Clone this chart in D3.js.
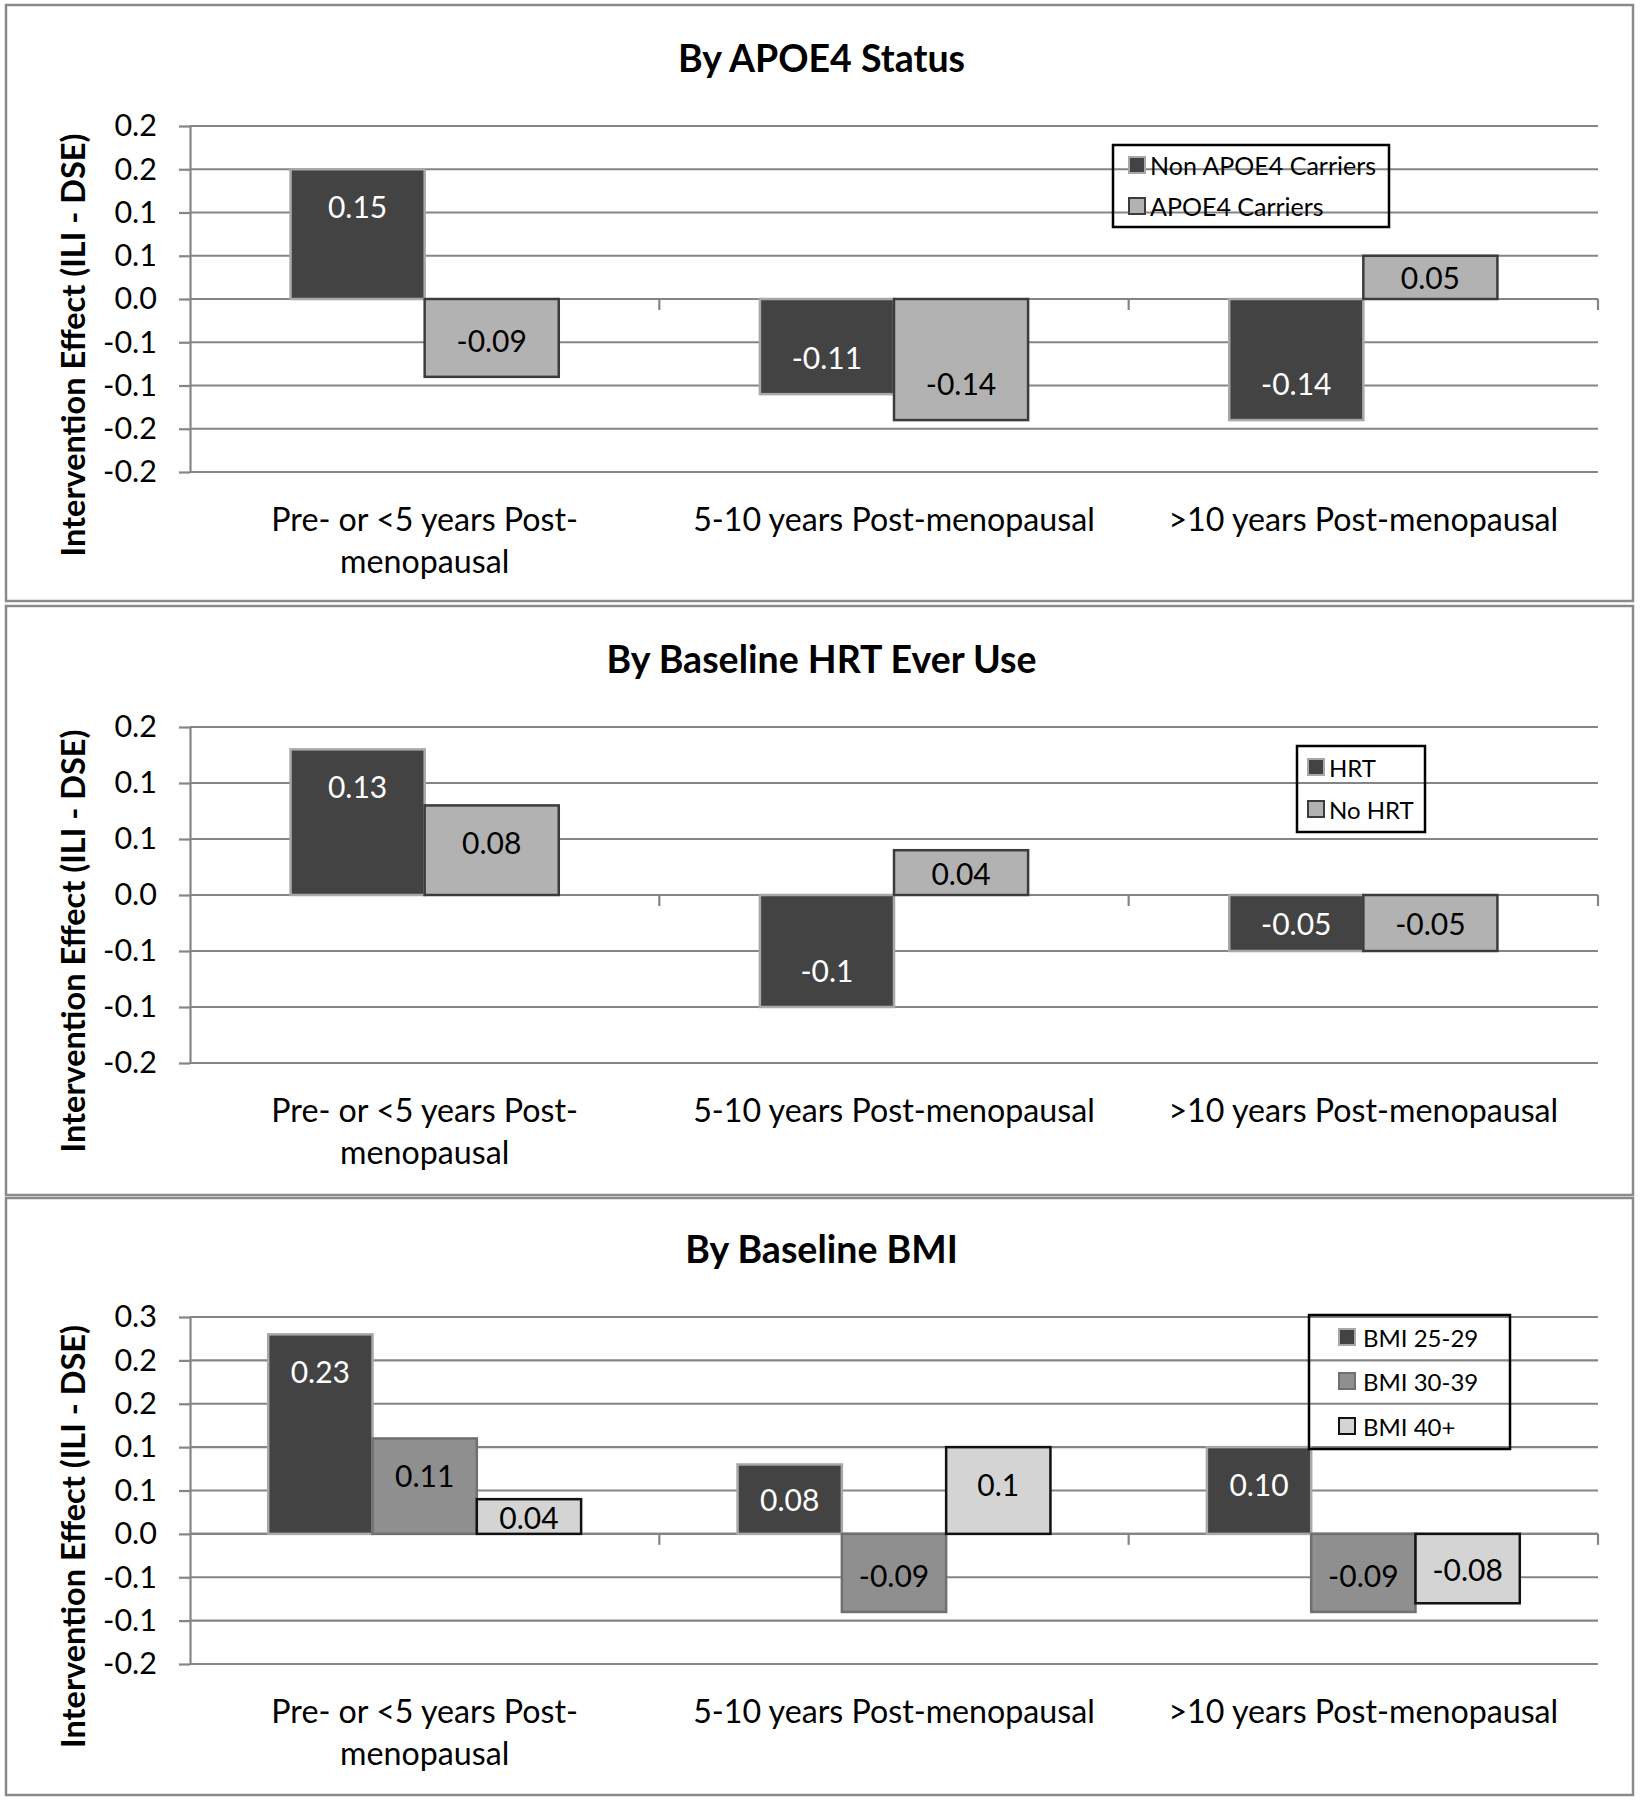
<!DOCTYPE html>
<html><head><meta charset="utf-8">
<script src="https://cdn.jsdelivr.net/npm/d3@7"></script>
<style>
body{margin:0;background:#fff}
svg{display:block}
text{font-family:Lato,'Open Sans',sans-serif}
</style>
</head><body>
<svg id="chart" width="1643" height="1800"></svg>
<script>
// ---------- data ----------
const categories = ["Pre- or <5 years Post-menopausal", "5-10 years Post-menopausal", ">10 years Post-menopausal"];
const categoryLines = [["Pre- or <5 years Post-", "menopausal"], ["5-10 years Post-menopausal"], [">10 years Post-menopausal"]];
const yAxisTitle = "Intervention Effect (ILI - DSE)";

// Panel 1: By APOE4 Status
const apoeTitle = "By APOE4 Status";
const apoeSeries = ["Non APOE4 Carriers", "APOE4 Carriers"];
const apoeNonCarriers = [0.15, -0.11, -0.14];
const apoeCarriers = [-0.09, -0.14, 0.05];
const apoeNonCarrierLabels = ["0.15", "-0.11", "-0.14"];
const apoeCarrierLabels = ["-0.09", "-0.14", "0.05"];
const apoeTicks = [0.2, 0.15, 0.1, 0.05, 0, -0.05, -0.1, -0.15, -0.2];
const apoeTickLabels = ["0.2", "0.2", "0.1", "0.1", "0.0", "-0.1", "-0.1", "-0.2", "-0.2"];

// Panel 2: By Baseline HRT Ever Use
const hrtTitle = "By Baseline HRT Ever Use";
const hrtSeries = ["HRT", "No HRT"];
const hrtValues = [0.13, -0.10, -0.05];
const noHrtValues = [0.08, 0.04, -0.05];
const hrtLabels = ["0.13", "-0.1", "-0.05"];
const noHrtLabels = ["0.08", "0.04", "-0.05"];
const hrtTicks = [0.15, 0.1, 0.05, 0, -0.05, -0.1, -0.15];
const hrtTickLabels = ["0.2", "0.1", "0.1", "0.0", "-0.1", "-0.1", "-0.2"];

// Panel 3: By Baseline BMI
const bmiTitle = "By Baseline BMI";
const bmiSeries = ["BMI 25-29", "BMI 30-39", "BMI 40+"];
const bmi2529 = [0.23, 0.08, 0.10];
const bmi3039 = [0.11, -0.09, -0.09];
const bmi40 = [0.04, 0.10, -0.08];
const bmi2529Labels = ["0.23", "0.08", "0.10"];
const bmi3039Labels = ["0.11", "-0.09", "-0.09"];
const bmi40Labels = ["0.04", "0.1", "-0.08"];
const bmiTicks = [0.25, 0.2, 0.15, 0.1, 0.05, 0, -0.05, -0.1, -0.15];
const bmiTickLabels = ["0.3", "0.2", "0.2", "0.1", "0.1", "0.0", "-0.1", "-0.1", "-0.2"];

// ---------- styles ----------
const DARK = {fill: "#434343", stroke: "#a8a8a8", text: "#ffffff"};
const LIGHT = {fill: "#b2b2b2", stroke: "#3c3c3c", text: "#000000"};
const MEDIUM = {fill: "#8f8f8f", stroke: "#707070", text: "#000000"};
const PALE = {fill: "#d4d4d4", stroke: "#111111", text: "#000000"};
const GRID = "#858585";

const panels = [
  {title: apoeTitle, series: apoeSeries, values: [apoeNonCarriers, apoeCarriers],
   labels: [apoeNonCarrierLabels, apoeCarrierLabels], ticks: apoeTicks, tickLabels: apoeTickLabels,
   styles: [DARK, LIGHT], box: [6, 5, 1627, 596], plot: [126, 472],
   legend: {x: 1113, y: 145, w: 276, h: 82, rows: [165, 206], mx: 1129, tx: 1150, fs: 25}},
  {title: hrtTitle, series: hrtSeries, values: [hrtValues, noHrtValues],
   labels: [hrtLabels, noHrtLabels], ticks: hrtTicks, tickLabels: hrtTickLabels,
   styles: [DARK, LIGHT], box: [6, 606, 1627, 589], plot: [727, 1063],
   legend: {x: 1297, y: 746, w: 128, h: 86, rows: [767, 809], mx: 1308, tx: 1329, fs: 24}},
  {title: bmiTitle, series: bmiSeries, values: [bmi2529, bmi3039, bmi40],
   labels: [bmi2529Labels, bmi3039Labels, bmi40Labels], ticks: bmiTicks, tickLabels: bmiTickLabels,
   styles: [DARK, MEDIUM, PALE], box: [6, 1198, 1627, 597], plot: [1317, 1664],
   legend: {x: 1309, y: 1315, w: 201, h: 134, rows: [1337, 1381, 1426], mx: 1339, tx: 1363, fs: 24}}
];

const svg = d3.select("#chart");
const left = 190, right = 1598;

panels.forEach(p => {
  const g = svg.append("g");
  // panel frame
  g.append("rect").attr("x", p.box[0]).attr("y", p.box[1]).attr("width", p.box[2]).attr("height", p.box[3])
    .attr("fill", "none").attr("stroke", "#8a8a8a").attr("stroke-width", 2.5);

  const y = d3.scaleLinear().domain([d3.min(p.ticks), d3.max(p.ticks)]).range([p.plot[1], p.plot[0]]);
  const x0 = d3.scaleBand().domain(categories).range([left, right]).paddingInner(0).paddingOuter(0);
  const n = p.series.length;
  const bw = x0.bandwidth() / (n + 1.5);
  const x1 = d3.scaleBand().domain(p.series).range([0.75 * bw, 0.75 * bw + n * bw]).padding(0);

  // title
  g.append("text").attr("x", p.box[0] + p.box[2] / 2 + 2).attr("y", p.plot[0] - 69)
    .attr("text-anchor", "middle").attr("dominant-baseline", "central")
    .attr("font-weight", "bold").attr("font-size", 37.5).text(p.title);

  // gridlines
  g.append("g").selectAll("line").data(p.ticks).join("line")
    .attr("x1", left).attr("x2", right).attr("y1", d => y(d)).attr("y2", d => y(d))
    .attr("stroke", GRID).attr("stroke-width", 2.2);

  // y axis
  const yAxis = d3.axisLeft(y).tickValues(p.ticks).tickFormat((d, i) => p.tickLabels[i])
    .tickSizeInner(11).tickSizeOuter(0).tickPadding(22);
  const ya = g.append("g").attr("transform", `translate(${left},0)`).call(yAxis);
  ya.select(".domain").attr("stroke", GRID).attr("stroke-width", 2.2);
  ya.selectAll(".tick line").attr("stroke", GRID).attr("stroke-width", 2.2);
  ya.selectAll(".tick text").attr("font-size", 30.5).attr("fill", "#000").attr("font-family", "Lato");

  // x axis at zero
  const xa = g.append("g").attr("transform", `translate(0,${y(0)})`);
  xa.append("line").attr("x1", left).attr("x2", right).attr("stroke", GRID).attr("stroke-width", 2.2);
  xa.selectAll("line.tk").data(categories).join("line").attr("class", "tk")
    .attr("x1", d => x0(d) + x0.bandwidth()).attr("x2", d => x0(d) + x0.bandwidth())
    .attr("y1", 0).attr("y2", 11).attr("stroke", GRID).attr("stroke-width", 2.2);

  // category labels
  categories.forEach((c, i) => {
    const t = g.append("text").attr("text-anchor", "middle").attr("font-size", 32.2)
      .attr("x", x0(c) + x0.bandwidth() / 2).attr("y", p.plot[1] + 46).attr("dominant-baseline", "central");
    categoryLines[i].forEach((line, j) => {
      t.append("tspan").attr("x", x0(c) + x0.bandwidth() / 2).attr("dy", j === 0 ? 0 : 42).text(line);
    });
  });

  // y axis title
  g.append("text").attr("transform", `translate(72,${(p.plot[0] + p.plot[1]) / 2 + 46}) rotate(-90)`)
    .attr("text-anchor", "middle").attr("dominant-baseline", "central")
    .attr("font-weight", "bold").attr("font-size", 32.5).text(yAxisTitle);

  // bars
  p.series.forEach((s, si) => {
    const st = p.styles[si];
    const data = p.values[si].map((v, ci) => ({v, c: categories[ci], label: p.labels[si][ci]}));
    const sg = g.append("g");
    sg.selectAll("rect").data(data).join("rect")
      .attr("x", d => x0(d.c) + x1(s))
      .attr("width", x1.bandwidth())
      .attr("y", d => Math.min(y(d.v), y(0)))
      .attr("height", d => Math.abs(y(d.v) - y(0)))
      .attr("fill", st.fill).attr("stroke", st.stroke).attr("stroke-width", 2.5);
    sg.selectAll("text").data(data).join("text")
      .attr("x", d => x0(d.c) + x1(s) + x1.bandwidth() / 2)
      .attr("y", d => {
        const h = Math.abs(y(d.v) - y(0));
        const off = Math.min(37, h / 2);
        return d.v >= 0 ? y(d.v) + off : y(d.v) - off;
      })
      .attr("text-anchor", "middle").attr("dominant-baseline", "central")
      .attr("font-size", 30).attr("fill", st.text).text(d => d.label);
  });

  // legend
  const L = p.legend;
  const lg = g.append("g");
  lg.append("rect").attr("x", L.x).attr("y", L.y).attr("width", L.w).attr("height", L.h)
    .attr("fill", "none").attr("stroke", "#000").attr("stroke-width", 2.5);
  p.series.forEach((s, si) => {
    const st = p.styles[si];
    lg.append("rect").attr("x", L.mx).attr("y", L.rows[si] - 8).attr("width", 16).attr("height", 16)
      .attr("fill", st.fill).attr("stroke", st.stroke).attr("stroke-width", 2);
    lg.append("text").attr("x", L.tx).attr("y", L.rows[si]).attr("dominant-baseline", "central")
      .attr("font-size", L.fs).text(s);
  });
});
</script>
</body></html>
